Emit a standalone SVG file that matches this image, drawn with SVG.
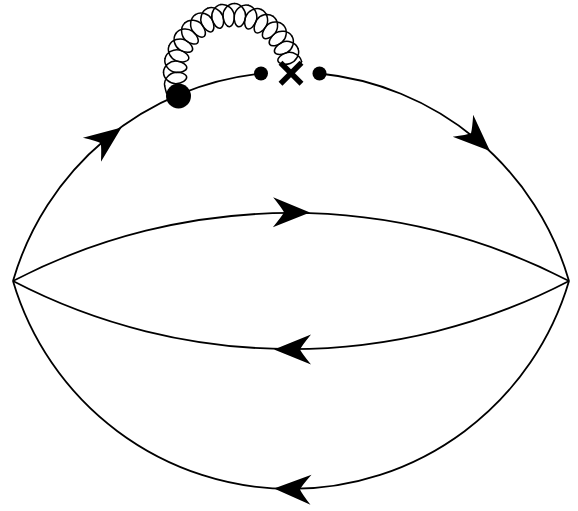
<svg xmlns="http://www.w3.org/2000/svg" width="578" height="511" viewBox="0 0 578 511">
<style>
.ln{fill:none;stroke:#000;stroke-width:1.8}
.gl{fill:none;stroke:#000;stroke-width:1.5;stroke-linecap:round;stroke-linejoin:round}
.ah{fill:#000;stroke:none}
.dot{fill:#000}
.x{stroke:#000;stroke-width:5.5;stroke-linecap:butt}
</style>
<defs>
<path id="arr" d="M0,0 L-37,-15 Q-28,-4 -26,0 Q-28,4 -37,15 Z"/>
<path id="coil" d="M69.5,0 C69.5,6.478 62.983,11.53 56.89,11.295 C50.797,11.06 45.996,7.378 46.273,4.59 C46.55,1.802 51.98,-0.864 58,0.1025 C64.02,1.069 69.418,7.303 68.145,13.655"/>
</defs>
<rect width="578" height="511" fill="#fff"/>
<g id="connectors">
<path class="ln" d="M13,281 A289.4,289.4 0 0 1 261,73.6"/>
<path class="ln" d="M319.5,73.5 A289.4,289.4 0 0 1 569,281"/>
<path class="ln" d="M13,281 A289.8,289.8 0 0 0 569,281"/>
<path class="ln" d="M13,281 A602,602 0 0 1 569,281"/>
<path class="ln" d="M13,281 A602,602 0 0 0 569,281"/>
<g class="ah">
<use href="#arr" transform="translate(121.5,127.5) rotate(-37)"/>
<use href="#arr" transform="translate(490,151) rotate(43)"/>
<use href="#arr" transform="translate(310,212.5) rotate(0.5)"/>
<use href="#arr" transform="translate(274,349.5) rotate(180)"/>
<use href="#arr" transform="translate(274,488.5) rotate(182)"/>
</g>
</g>
<g id="gluon" class="gl">
<path d="M178.5,96 L166.54,93.32 A69.5,69.5 0 0 1 164.7,85.87"/>
<g transform="translate(233,73)">
<use href="#coil" transform="rotate(169.33)"/>
<use href="#coil" transform="rotate(180.66)"/>
<use href="#coil" transform="rotate(191.99)"/>
<use href="#coil" transform="rotate(203.32)"/>
<use href="#coil" transform="rotate(214.65)"/>
<use href="#coil" transform="rotate(225.98)"/>
<use href="#coil" transform="rotate(237.31)"/>
<use href="#coil" transform="rotate(248.64)"/>
<use href="#coil" transform="rotate(259.97)"/>
<use href="#coil" transform="rotate(271.30)"/>
<use href="#coil" transform="rotate(282.63)"/>
<use href="#coil" transform="rotate(293.96)"/>
<use href="#coil" transform="rotate(305.30)"/>
<use href="#coil" transform="rotate(316.63)"/>
<use href="#coil" transform="rotate(327.96)"/>
<use href="#coil" transform="rotate(339.29)"/>
</g>
<path d="M301.57,61.67 L291,73.3"/>
</g>
<g id="vertex-big"><circle class="dot" cx="178.5" cy="96" r="12.5"/></g>
<g id="vertex-left"><circle class="dot" cx="261" cy="73.5" r="7"/></g>
<g id="vertex-right"><circle class="dot" cx="319.5" cy="73.5" r="7"/></g>
<g id="insertion">
<line class="x" x1="280.5" y1="62.8" x2="301.5" y2="83.8"/>
<line class="x" x1="301.5" y1="62.8" x2="280.5" y2="83.8"/>
</g>
</svg>
